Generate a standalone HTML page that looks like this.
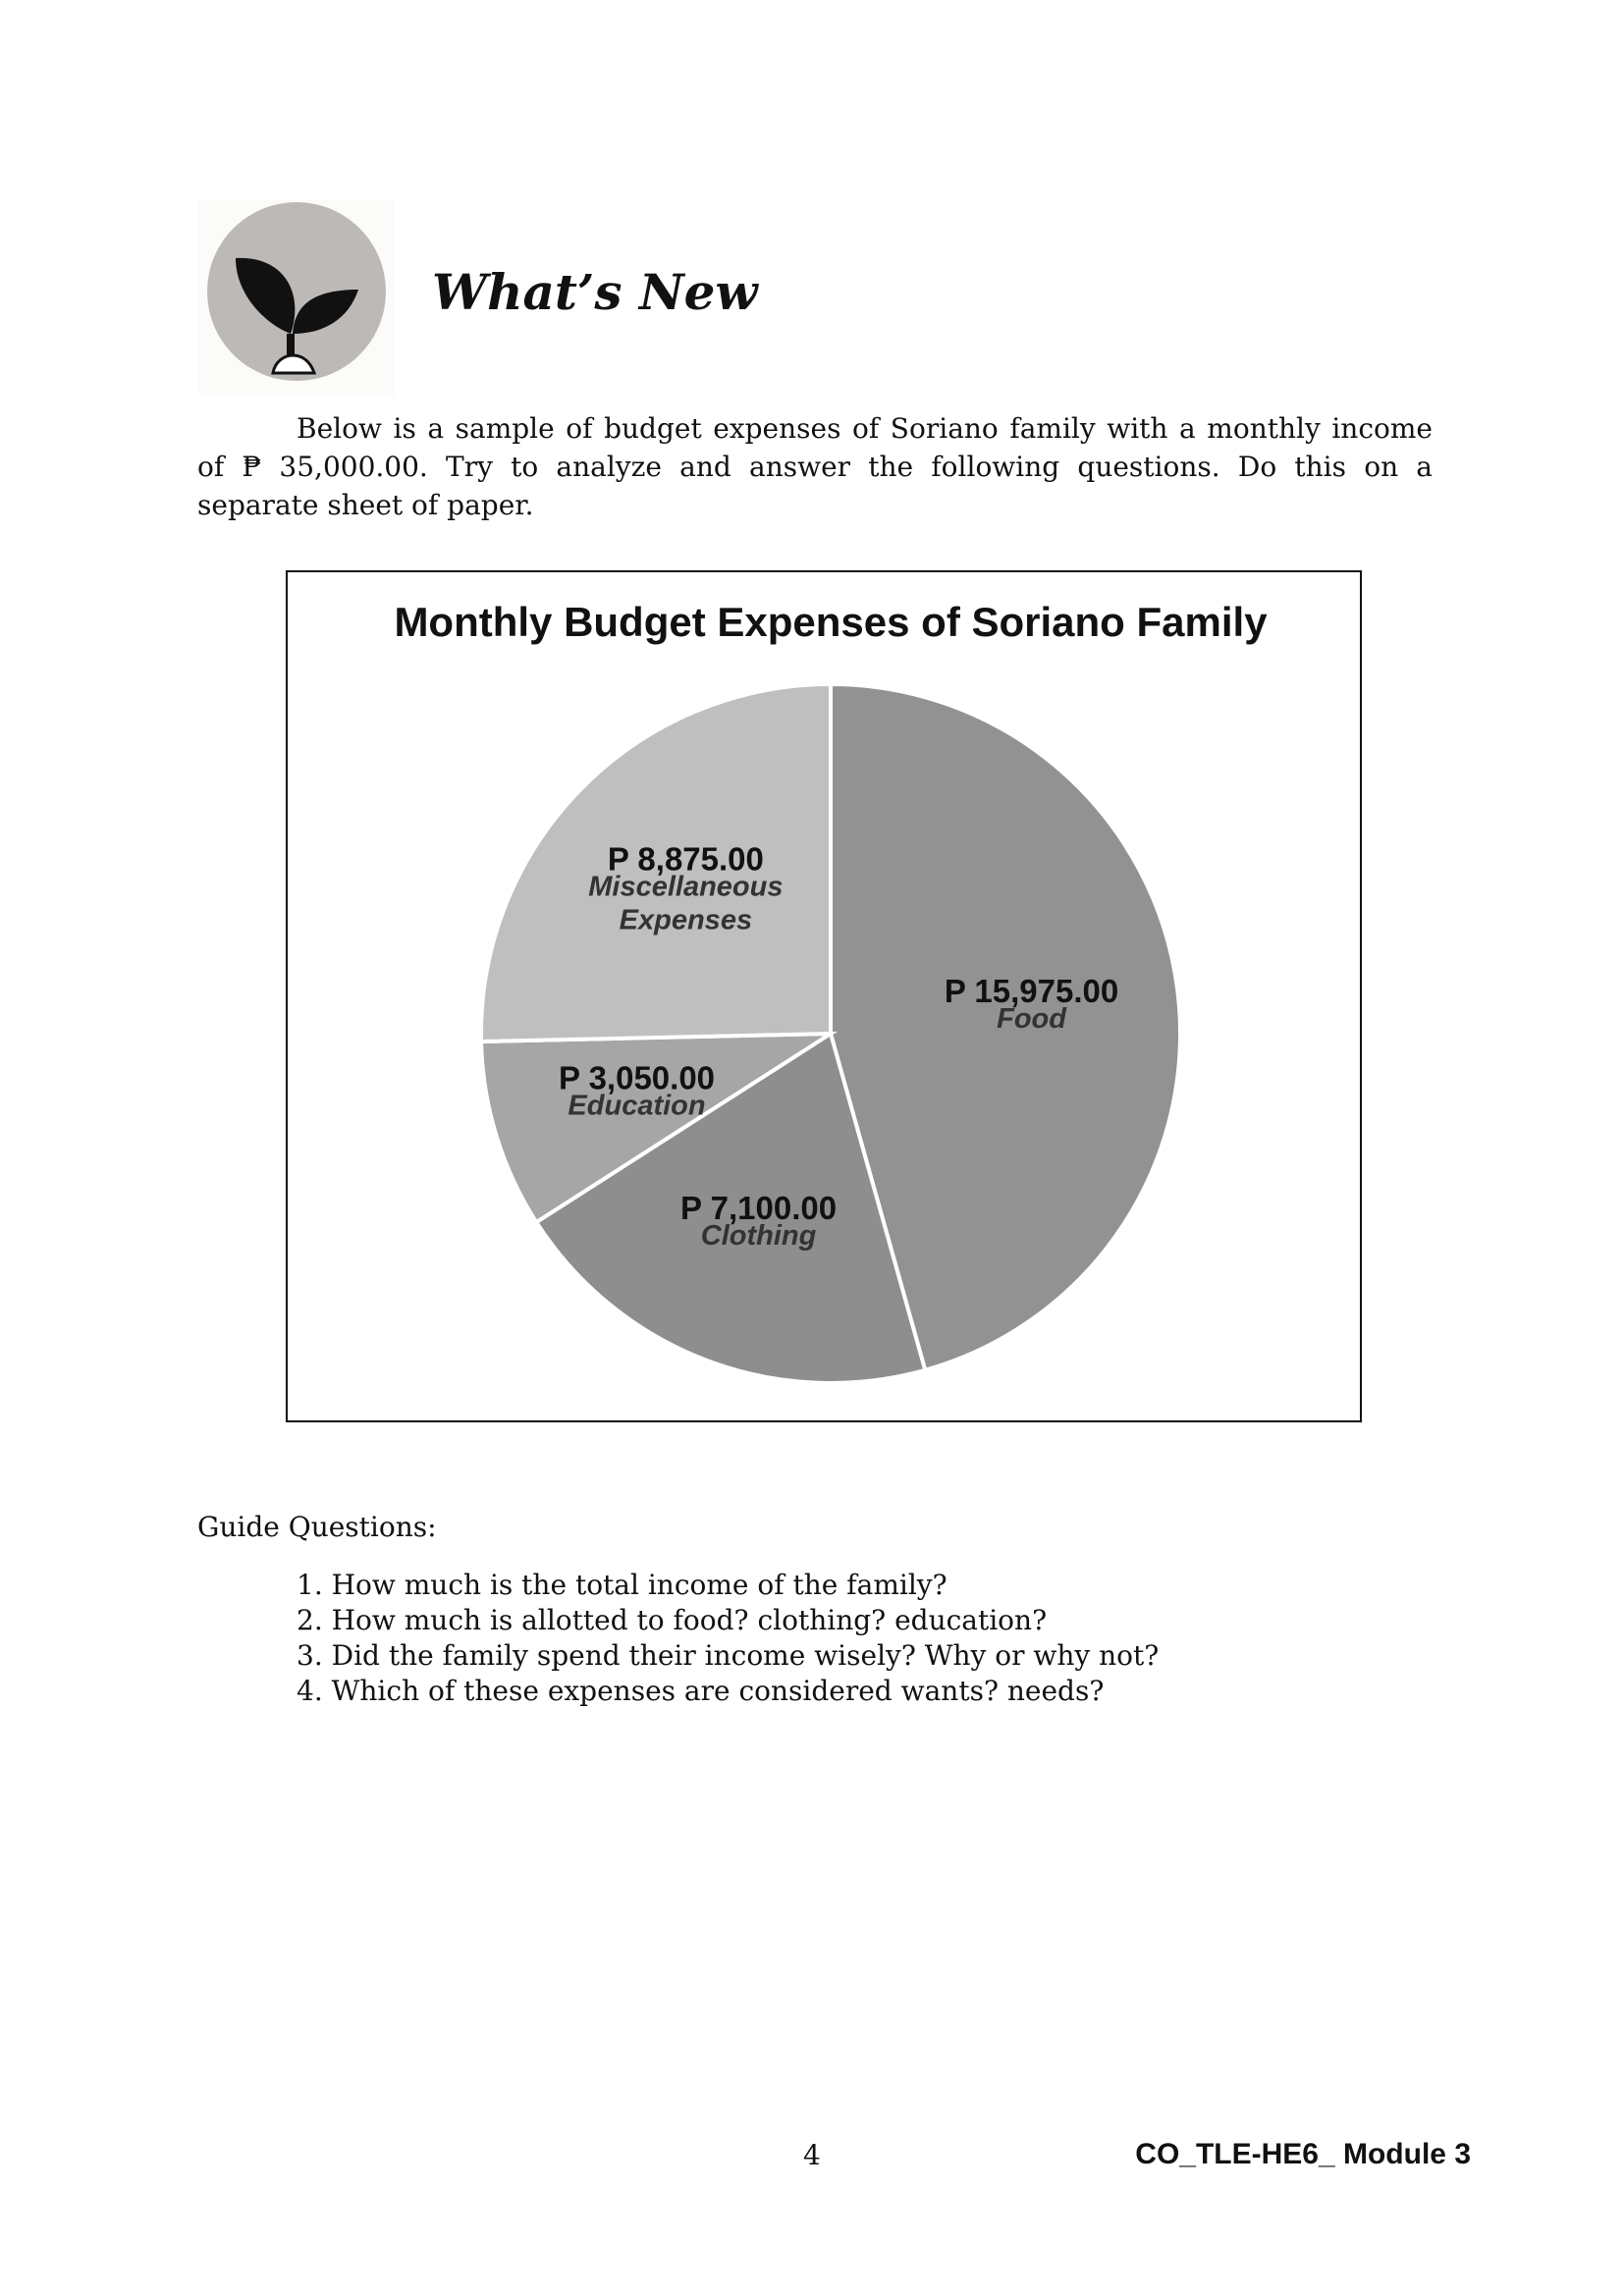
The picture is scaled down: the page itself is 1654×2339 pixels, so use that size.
<!DOCTYPE html>
<html><head><meta charset="utf-8"><style>
html,body{margin:0;padding:0;background:#fff;}
body{width:1654px;height:2339px;position:relative;overflow:hidden;font-family:"DejaVu Serif","Liberation Serif",serif;color:#111;}
.abs{position:absolute;margin:0;}
.p{font-size:28px;line-height:39px;}
</style></head><body>
<div class="abs" style="left:202px;top:203px;width:200px;height:200px;background:#fbfbfa;"></div>
<svg class="abs" style="left:200px;top:200px" width="200" height="200" viewBox="0 0 200 200">
<circle cx="102" cy="97" r="91" fill="#bdb9b6"/>
<path d="M40 63 C90 60 110 100 96 140 C70 130 40 100 40 63Z" fill="#111"/>
<path d="M98 140 C100 110 120 95 165 95 C155 125 130 140 98 140Z" fill="#111"/>
<path d="M96 140 L96 165" stroke="#111" stroke-width="8"/>
<path d="M78 180 C80 168 90 162 98 162 C108 162 116 168 120 180Z" fill="#fff" stroke="#111" stroke-width="3"/>
</svg>
<h1 class="abs" style="left:440px;top:268px;font-size:50px;font-style:italic;font-weight:bold;font-family:'DejaVu Serif',serif;">What’s New</h1>
<div class="abs p" style="left:201px;top:417px;width:1258px;text-align:justify;text-indent:101px;">Below is a sample of budget expenses of Soriano family with a monthly income of ₱ 35,000.00. Try to analyze and answer the following questions. Do this on a separate sheet of paper.</div>

<div class="abs" style="left:291px;top:581px;width:1092px;height:864px;border:2px solid #111;"></div>
<svg class="abs" id="chart" style="left:0;top:0" width="1654" height="1500"></svg>

<div class="abs p" style="left:201px;top:1536px;">Guide Questions:</div>
<ol class="abs p" style="left:302px;top:1597px;padding:0;list-style:none;line-height:36px;">
<li>1. How much is the total income of the family?</li>
<li>2. How much is allotted to food? clothing? education?</li>
<li>3. Did the family spend their income wisely? Why or why not?</li>
<li>4. Which of these expenses are considered wants? needs?</li>
</ol>
<div class="abs p" style="left:818px;top:2176px;">4</div>
<div class="abs" style="right:156px;top:2178px;font-family:'Liberation Sans',sans-serif;font-weight:bold;font-size:30px;">CO_TLE-HE6_ Module 3</div>

<script>
const categories = ["Food","Clothing","Education","Miscellaneous Expenses"];
const values = [15975,7100,3050,8875];
const valueLabels = ["P 15,975.00","P 7,100.00","P 3,050.00","P 8,875.00"];
const colors = ["#929292","#8e8e8e","#a6a6a6","#bfbfbf"];
const NS="http://www.w3.org/2000/svg";
const svg=document.getElementById('chart');
const cx=846, cy=1053, R=356;
function mk(t,a){const e=document.createElementNS(NS,t);for(const k in a)e.setAttribute(k,a[k]);svg.appendChild(e);return e;}
const title=mk('text',{x:cx,y:648,'text-anchor':'middle','font-family':'Liberation Sans, sans-serif','font-weight':'bold','font-size':42,fill:'#111'});


title.textContent='Monthly Budget Expenses of Soriano Family';
const total=values.reduce((a,b)=>a+b,0);
function pt(ang,r){return [cx+r*Math.sin(ang), cy-r*Math.cos(ang)];}
let acc=0;
values.forEach((v,i)=>{
  const a0=acc/total*2*Math.PI; acc+=v; const a1=acc/total*2*Math.PI;
  const p0=pt(a0,R), p1=pt(a1,R);
  const large=(a1-a0)>Math.PI?1:0;
  const path=mk('path',{d:`M${cx} ${cy} L${p0[0]} ${p0[1]} A${R} ${R} 0 ${large} 1 ${p1[0]} ${p1[1]} Z`,fill:colors[i],stroke:'#fff','stroke-width':4});
  
  
});
acc=0;
values.forEach((v,i)=>{
  const a0=acc/total*2*Math.PI; acc+=v; const a1=acc/total*2*Math.PI;
  const m=pt((a0+a1)/2,R*0.58);
  const words=categories[i].split(' ');
  const vt=mk('text',{x:m[0],y:m[1]-(words.length>1?22:4),'text-anchor':'middle','font-family':'Liberation Sans, sans-serif','font-weight':'bold','font-size':33,fill:'#111'});
  
  
  vt.textContent=valueLabels[i];
  words.forEach((w,j)=>{
    const ct=mk('text',{x:m[0],y:m[1]-(words.length>1?22:4)+26+j*34,'text-anchor':'middle','font-family':'Liberation Sans, sans-serif','font-weight':'bold','font-style':'italic','font-size':29,fill:'#333'});
    
    
    ct.textContent=w;
  });
});
</script>
</body></html>
